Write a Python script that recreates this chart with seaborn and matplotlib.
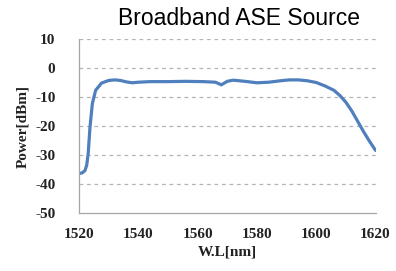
import matplotlib
matplotlib.use('Agg')
import matplotlib.pyplot as plt
import seaborn as sns
import pandas as pd

# wavelength [nm] and power [dBm]
wavelength = [1520, 1521, 1522, 1522.6, 1523.1, 1523.7, 1524.5, 1525.6, 1527.6,
              1530, 1532, 1534, 1536, 1538, 1540, 1544, 1550, 1556, 1562,
              1566, 1568, 1570, 1572, 1576, 1580, 1584, 1588, 1591, 1594,
              1597, 1600, 1603, 1606, 1608, 1610, 1612, 1614, 1616, 1618, 1620]
power = [-36.4, -36.2, -35.4, -33.5, -29.5, -20.5, -12.3, -7.7, -5.2,
         -4.3, -4.1, -4.3, -4.8, -5.1, -4.9, -4.7, -4.7, -4.6, -4.7,
         -4.9, -5.8, -4.6, -4.2, -4.6, -5.1, -4.9, -4.4, -4.1, -4.1,
         -4.4, -5.0, -6.2, -7.7, -9.5, -11.8, -14.8, -18.4, -22.0, -25.3, -28.4]
xticks = [1520, 1540, 1560, 1580, 1600, 1620]
yticks = [-50, -40, -30, -20, -10, 0, 10]

sns.set_style('white')
plt.rcParams['font.family'] = ['Liberation Serif', 'DejaVu Serif']
plt.rcParams['axes.unicode_minus'] = False

df = pd.DataFrame({'wl': wavelength, 'power': power})

fig = plt.figure(figsize=(3.96, 2.71), dpi=100)
ax = fig.add_axes([79 / 396, 1 - 213 / 271, (375.5 - 79) / 396, (213 - 39) / 271])

for y in yticks[1:]:
    ax.axhline(y, color='#b4b4b4', lw=0.9, ls=(0, (3, 3)), zorder=0)

sns.lineplot(data=df, x='wl', y='power', ax=ax, color='#4f7fbd', lw=2.3, sort=False)

ax.set_xlim(1520, 1620)
ax.set_ylim(-50, 10)
ax.set_xticks(xticks)
ax.set_yticks(yticks)
ax.tick_params(axis='x', direction='in', length=3, color='#a6a6a6', pad=11,
               labelsize=11, labelcolor='#222222')
ax.tick_params(axis='y', length=0, pad=17, labelsize=11, labelcolor='#222222')
for lab in ax.get_xticklabels() + ax.get_yticklabels():
    lab.set_fontweight('bold')

for s in ['top', 'right']:
    ax.spines[s].set_visible(False)
for s in ['left', 'bottom']:
    ax.spines[s].set_color('#a6a6a6')
    ax.spines[s].set_linewidth(0.9)

ax.set_xlabel('W.L[nm]', fontsize=11, fontweight='bold', labelpad=3, color='#222222')
ax.set_ylabel('Power[dBm]', fontsize=11, fontweight='bold', labelpad=4, color='#222222')

fig.text(238.5 / 396, 1 - 25 / 271, 'Broadband ASE Source', ha='center', va='baseline',
         fontsize=16.5, family=['Liberation Sans', 'DejaVu Sans'], color='black')

fig.savefig('out.png', dpi=100)
